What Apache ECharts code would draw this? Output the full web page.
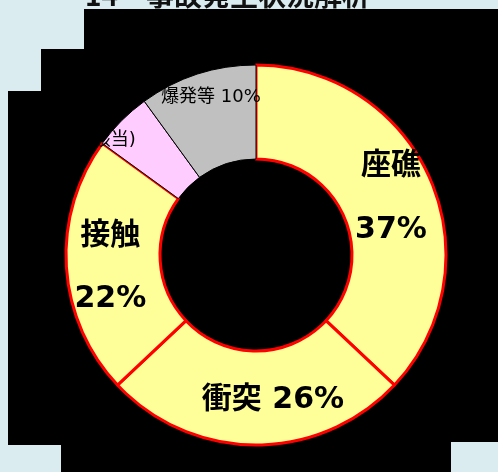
<!DOCTYPE html>
<html>
<head>
<meta charset="utf-8">
<script src="https://cdn.jsdelivr.net/npm/echarts@6/dist/echarts.min.js"></script>
<style>
  html, body { margin: 0; padding: 0; background: #daecf0; }
  #chart { width: 498px; height: 472px; }
</style>
</head>
<body>
<div id="chart"></div>
<script>
// Accident types and their shares (%)
const categories = ['座礁', '衝突', '接触', 'その他(非該当)', '爆発等'];
const shares = [37, 26, 22, 5, 10];
const fills = ['#ffff99', '#ffff99', '#ffff99', '#ffccff', '#c0c0c0'];

const titleText = '14\u3000事故発生状況解析';
const noteText = '座礁・衝突・接触で全体の85%を占める';

const FONT = '"DejaVu Sans", "Noto Sans CJK JP", sans-serif';

const bigLabel = {
  fontSize: 30, fontWeight: 'bold', color: '#000', fontFamily: FONT,
  textBorderWidth: 0
};
const smallLabel = {
  fontSize: 18, fontWeight: 'normal', color: '#000', fontFamily: FONT,
  textBorderWidth: 0
};

const labelStyles = [
  Object.assign({ formatter: '{b}\n{d}%', lineHeight: 64, offset: [1, 1] }, bigLabel),
  Object.assign({ formatter: '{b} {d}%', lineHeight: 34, offset: [17, -1] }, bigLabel),
  Object.assign({ formatter: '{b}\n{d}%', lineHeight: 63, offset: [0, 4] }, bigLabel),
  Object.assign({ formatter: '{b}', offset: [-78, -11] }, smallLabel),
  Object.assign({ formatter: '{b} {d}%', offset: [0, -19] }, smallLabel)
];

const data = categories.map((name, i) => {
  const isMain = fills[i] === '#ffff99';
  return {
    name: name,
    value: shares[i],
    itemStyle: {
      color: fills[i],
      borderColor: isMain ? '#ff0000' : '#000000',
      borderWidth: isMain ? 3 : 1
    },
    label: Object.assign({ show: true, position: 'inside' }, labelStyles[i])
  };
});

const chart = echarts.init(document.getElementById('chart'), null, { renderer: 'canvas' });

chart.setOption({
  animation: false,
  backgroundColor: '#daecf0',
  graphic: [
    {
      // dark backdrop panel behind the ring
      type: 'polygon',
      z: 0,
      shape: {
        points: [
          [84, 9], [498, 9], [498, 442], [451, 442], [451, 472],
          [61, 472], [61, 445], [8, 445], [8, 91], [41, 91],
          [41, 49], [84, 49]
        ]
      },
      style: { fill: '#000000' }
    },
    {
      type: 'text',
      z: 10,
      x: 85,
      y: -5,
      style: {
        text: titleText,
        font: 'bold 28px "Noto Sans CJK JP", sans-serif',
        fill: '#111',
        verticalAlign: 'middle',
        align: 'left'
      }
    },
    {
      type: 'text',
      z: 10,
      x: 242,
      y: 482,
      style: {
        text: noteText,
        font: 'bold 18px "Noto Sans CJK JP", sans-serif',
        fill: '#e00000',
        verticalAlign: 'middle',
        align: 'center'
      }
    }
  ],
  series: [
    {
      type: 'pie',
      z: 2,
      center: [256, 255],
      radius: [96, 190],
      startAngle: 90,
      clockwise: true,
      avoidLabelOverlap: false,
      minShowLabelAngle: 0,
      labelLine: { show: false },
      emphasis: { disabled: true },
      data: data
    }
  ]
});
</script>
</body>
</html>
